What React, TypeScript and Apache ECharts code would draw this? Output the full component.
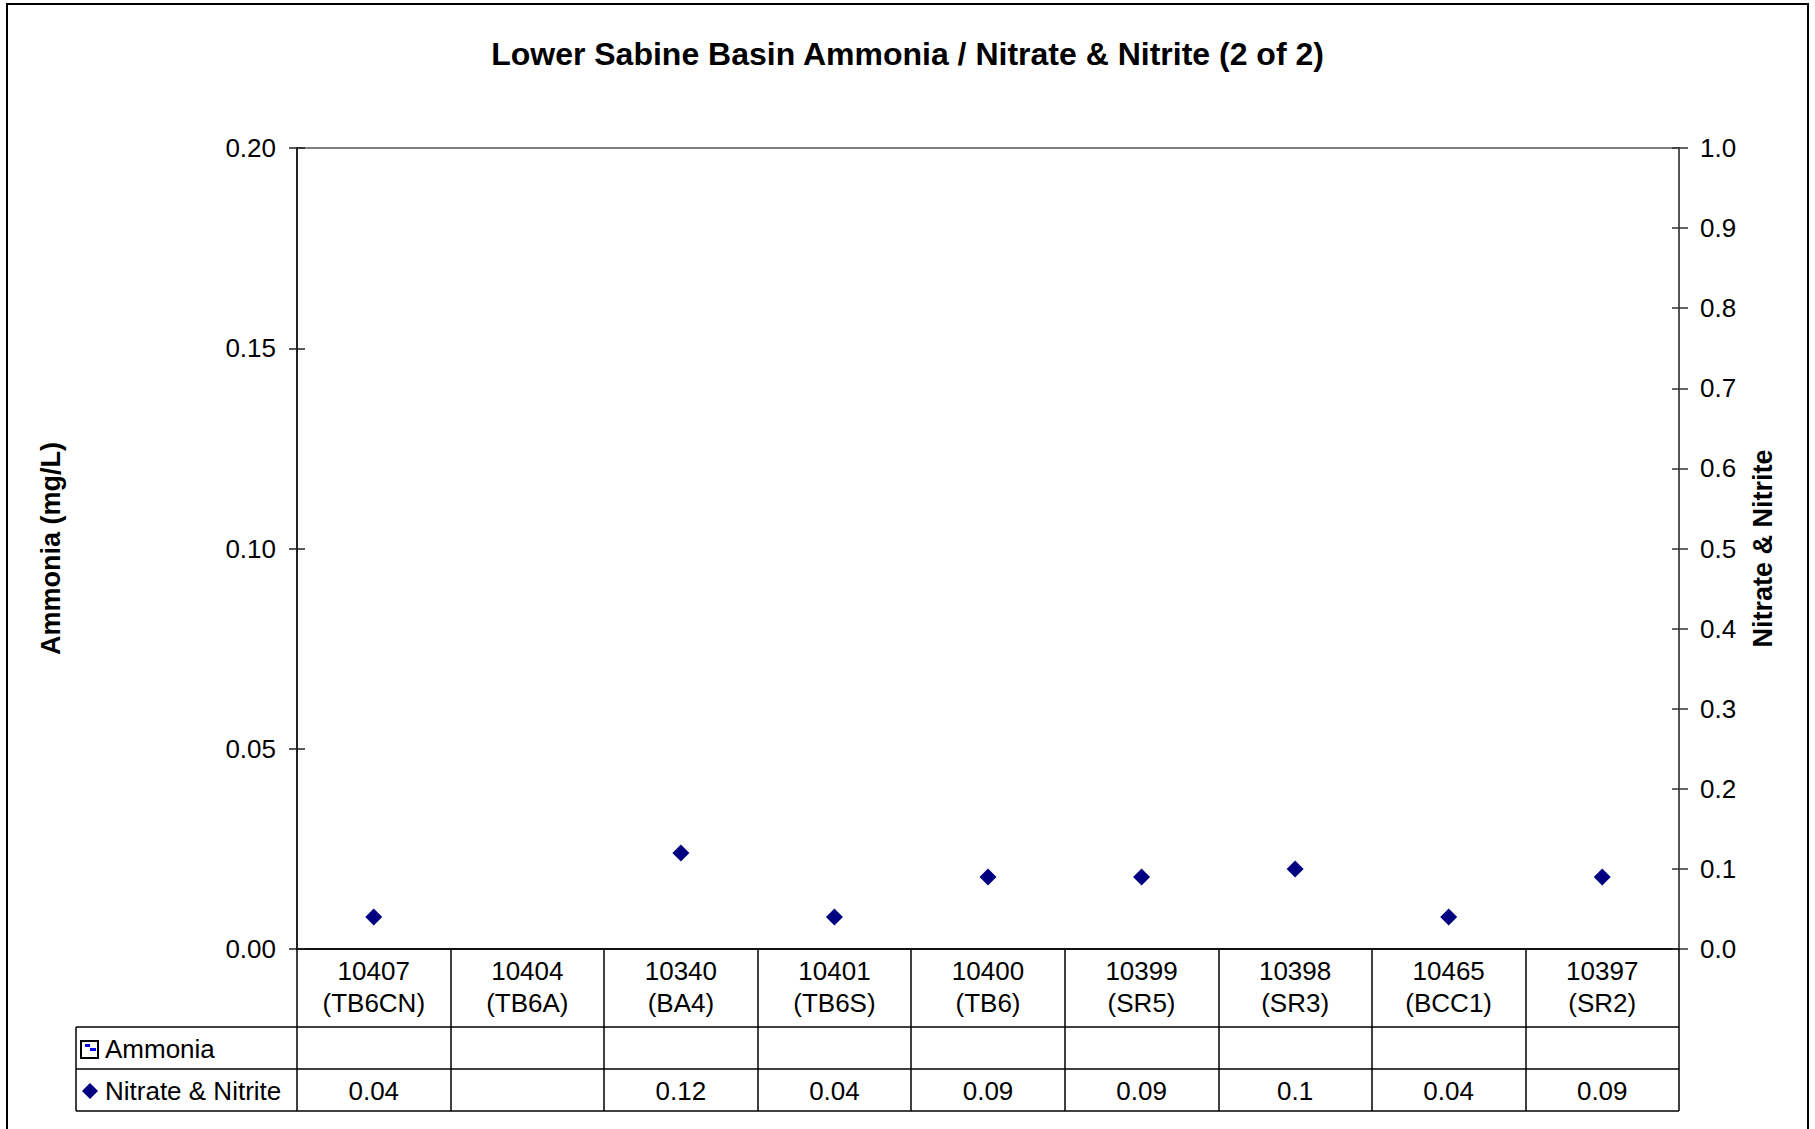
import React, { useEffect, useRef } from "react";
import * as echarts from "echarts";

const TITLE = "Lower Sabine Basin Ammonia / Nitrate & Nitrite (2 of 2)";
const stations = ["10407", "10404", "10340", "10401", "10400", "10399", "10398", "10465", "10397"];
const siteCodes = ["TB6CN", "TB6A", "BA4", "TB6S", "TB6", "SR5", "SR3", "BCC1", "SR2"];
const ammonia: (number | null)[] = [null, null, null, null, null, null, null, null, null];
const nitrate: (number | null)[] = [0.04, null, 0.12, 0.04, 0.09, 0.09, 0.1, 0.04, 0.09];
const leftTicks = { min: 0, max: 0.2, interval: 0.05 };
const rightTicks = { min: 0, max: 1, interval: 0.1 };

const FONT = "'Liberation Sans', Arial, sans-serif";
const W = 1815;
const H = 1129;
const GL = 297;
const GR = 1679;
const GT = 148;
const GB = 949;
const ROW0 = 1027;
const ROW1 = 1069;
const ROW2 = 1111;
const TABLE_L = 76;
const FS = 26;

export default function App() {
  const ref = useRef<HTMLDivElement>(null);
  useEffect(() => {
    document.body.style.margin = "0";
    const chart = echarts.init(ref.current!, null, { renderer: "svg" });
    const categories = stations.map((s, i) => `${s}\n(${siteCodes[i]})`);
    const fmt = (v: number | null) => (v == null ? "" : String(v));
    const black = "#000";
    const hLine = (y: number) => ({
      type: "line",
      shape: { x1: TABLE_L, y1: y, x2: GR, y2: y },
      style: { stroke: black, lineWidth: 1.5 },
      silent: true,
    });
    const option: any = {
      animation: false,
      backgroundColor: "#fff",
      textStyle: { fontFamily: FONT },
      title: {
        text: TITLE,
        left: "center",
        top: 33,
        textStyle: { fontSize: 32, fontWeight: "bold", color: black, fontFamily: FONT },
      },
      grid: {
        left: GL,
        right: W - GR,
        top: GT,
        bottom: H - GB,
        show: true,
        borderColor: "#808080",
        borderWidth: 2,
      },
      xAxis: [
        {
          type: "category",
          data: categories,
          position: "bottom",
          axisLine: { lineStyle: { color: "#111", width: 2 } },
          axisTick: { show: true, interval: 0, length: ROW2 - GB, lineStyle: { color: black, width: 1.5 } },
          axisLabel: { interval: 0, fontSize: FS, lineHeight: 32, margin: 6, color: black, fontFamily: FONT },
        },
        {
          type: "category",
          data: ammonia.map(fmt),
          position: "bottom",
          offset: ROW0 - GB,
          axisLine: { show: false },
          axisTick: { show: false },
          axisLabel: { interval: 0, fontSize: FS, lineHeight: 26, margin: 9, color: black, fontFamily: FONT },
        },
        {
          type: "category",
          data: nitrate.map(fmt),
          position: "bottom",
          offset: ROW1 - GB,
          axisLine: { show: false },
          axisTick: { show: false },
          axisLabel: { interval: 0, fontSize: FS, lineHeight: 26, margin: 9, color: black, fontFamily: FONT },
        },
      ],
      yAxis: [
        {
          type: "value",
          position: "left",
          ...leftTicks,
          name: "Ammonia (mg/L)",
          nameLocation: "middle",
          nameRotate: 90,
          nameGap: 233,
          nameTextStyle: { fontSize: 27, fontWeight: "bold", color: black, fontFamily: FONT },
          axisLine: { show: true, lineStyle: { color: "#222", width: 2 } },
          axisTick: { show: true, inside: false, length: 8, lineStyle: { color: "#222", width: 1.5 } },
          axisLabel: { fontSize: FS, margin: 21, color: black, fontFamily: FONT, formatter: (v: number) => v.toFixed(2) },
          splitLine: { show: false },
        },
        {
          type: "value",
          position: "right",
          ...rightTicks,
          name: "Nitrate & Nitrite",
          nameLocation: "middle",
          nameRotate: 90,
          nameGap: 70,
          nameTextStyle: { fontSize: 27, fontWeight: "bold", color: black, fontFamily: FONT },
          axisLine: { show: true, lineStyle: { color: "#555", width: 2 } },
          axisTick: { show: true, inside: false, length: 9, lineStyle: { color: "#333", width: 1.5 } },
          axisLabel: { fontSize: FS, margin: 21, color: black, fontFamily: FONT, formatter: (v: number) => v.toFixed(1) },
          splitLine: { show: false },
        },
        {
          type: "value",
          position: "left",
          ...leftTicks,
          axisLine: { show: false },
          axisTick: { show: true, inside: true, length: 8, lineStyle: { color: "#222", width: 1.5 } },
          axisLabel: { show: false },
          splitLine: { show: false },
        },
        {
          type: "value",
          position: "right",
          ...rightTicks,
          axisLine: { show: false },
          axisTick: { show: true, inside: true, length: 7, lineStyle: { color: "#333", width: 1.5 } },
          axisLabel: { show: false },
          splitLine: { show: false },
        },
      ],
      series: [
        {
          name: "Ammonia",
          type: "bar",
          xAxisIndex: 0,
          yAxisIndex: 0,
          data: ammonia,
          itemStyle: { color: "#fff", borderColor: black },
        },
        {
          name: "Nitrate & Nitrite",
          type: "scatter",
          xAxisIndex: 0,
          yAxisIndex: 1,
          data: nitrate,
          symbol: "diamond",
          symbolSize: 17,
          itemStyle: { color: "#000080", opacity: 1 },
        },
      ],
      graphic: [
        {
          type: "rect",
          shape: { x: 7, y: 4, width: 1801, height: 1140 },
          style: { fill: "none", stroke: black, lineWidth: 2 },
          silent: true,
          z: -1,
        },
        hLine(ROW0),
        hLine(ROW1),
        hLine(ROW2),
        {
          type: "line",
          shape: { x1: TABLE_L, y1: ROW0, x2: TABLE_L, y2: ROW2 },
          style: { stroke: black, lineWidth: 1.5 },
          silent: true,
        },
        {
          type: "rect",
          shape: { x: 81, y: 1041, width: 17, height: 17 },
          style: { fill: "#fff", stroke: black, lineWidth: 2 },
          silent: true,
        },
        {
          type: "rect",
          shape: { x: 85, y: 1044, width: 5, height: 3 },
          style: { fill: "#0000ff" },
          silent: true,
        },
        {
          type: "rect",
          shape: { x: 90, y: 1048, width: 6, height: 3 },
          style: { fill: "#0000ff" },
          silent: true,
        },
        {
          type: "polygon",
          shape: { points: [[90, 1083], [98, 1091], [90, 1099], [82, 1091]] },
          style: { fill: "#000080" },
          silent: true,
        },
        {
          type: "text",
          x: 105,
          y: 1049,
          style: { text: "Ammonia", fontSize: FS, fontFamily: FONT, fill: black, verticalAlign: "middle" },
          silent: true,
        },
        {
          type: "text",
          x: 105,
          y: 1091,
          style: { text: "Nitrate & Nitrite", fontSize: FS, fontFamily: FONT, fill: black, verticalAlign: "middle" },
          silent: true,
        },
      ],
    };
    chart.setOption(option);
    return () => chart.dispose();
  }, []);
  return <div ref={ref} style={{ width: W, height: H }} />;
}
